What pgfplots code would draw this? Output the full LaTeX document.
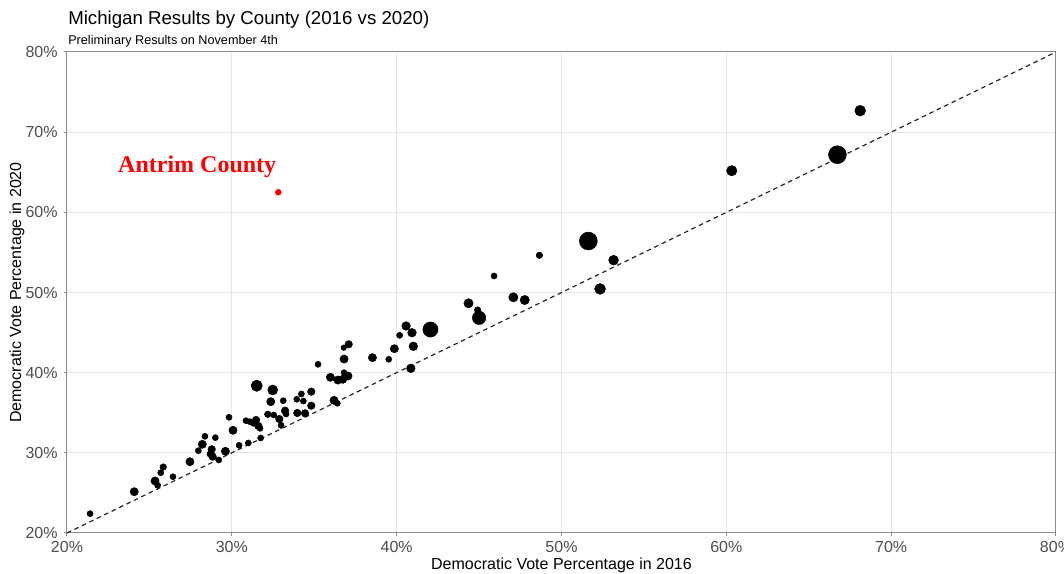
\documentclass[border=0pt]{standalone}
\usepackage{pgfplots}
\usepackage{pgfplotstable}
\pgfplotsset{compat=1.18}
\usepackage{fontspec}
\setmainfont{Liberation Sans}
\newfontfamily\serifbold{Liberation Serif}
\definecolor{gridgray}{HTML}{E6E6E6}
\definecolor{framegray}{HTML}{8C8C8C}
\definecolor{ticktext}{HTML}{4D4D4D}

\pgfplotstableread{
x y r
21.40 22.41 2.1
24.08 25.15 2.85
25.34 26.49 2.85
25.50 25.95 2.1
25.69 27.52 2.1
25.84 28.23 2.25
26.43 27.02 2.1
27.46 28.89 2.85
27.97 30.27 2.1
28.21 31.06 2.85
28.37 32.06 2.1
28.78 30.44 2.6
28.72 29.85 2.6
28.84 29.52 2.6
29.00 31.89 2.1
29.21 29.11 2.1
29.61 30.19 2.85
29.83 34.43 2.1
30.07 32.81 2.85
30.44 30.94 2.1
31.00 31.23 2.1
30.86 34.01 2.1
31.10 33.88 2.1
31.30 33.68 2.1
31.51 38.37 3.9
31.47 34.10 2.6
31.61 33.35 2.6
31.71 33.06 2.1
31.75 31.85 2.1
32.48 37.84 3.45
32.36 36.38 2.85
32.18 34.81 2.25
32.54 34.72 2.1
32.88 34.22 2.6
32.99 33.43 2.1
33.12 36.50 2.1
33.23 35.26 2.6
33.29 34.84 2.1
33.94 36.68 2.1
33.97 34.97 2.6
34.22 37.34 2.1
34.34 36.46 2.1
34.44 34.93 2.6
34.82 37.63 2.6
34.82 35.88 2.6
35.23 41.04 2.1
35.98 39.42 2.85
36.20 36.55 2.85
36.40 36.18 2.1
36.43 39.08 2.85
36.73 39.17 2.85
36.79 43.11 1.9
36.81 41.70 2.85
36.81 40.00 2.1
37.05 39.58 2.85
37.09 43.54 2.6
38.53 41.87 2.85
39.52 41.67 2.1
39.86 42.99 2.85
40.18 44.66 2.1
40.57 45.82 3.0
40.93 44.98 3.0
41.01 43.29 3.0
40.86 40.54 3.0
42.05 45.38 5.25
44.36 48.65 3.2
44.91 47.82 2.25
45.00 46.84 4.65
45.91 52.06 2.1
47.08 49.40 3.2
47.77 49.06 3.2
48.66 54.64 2.25
51.63 56.42 6.2
52.34 50.44 3.75
53.16 54.03 3.4
60.33 65.19 3.6
66.74 67.19 6.2
68.12 72.68 3.75
}\counties

\begin{document}
\begin{tikzpicture}
\begin{axis}[
  name=ax,
  scale only axis,
  width=741.75pt, height=360.75pt,
  xmin=20, xmax=80, ymin=20, ymax=80,
  xtick={20,30,...,80}, ytick={20,30,...,80},
  xticklabels={20\%,30\%,40\%,50\%,60\%,70\%,80\%},
  yticklabels={20\%,30\%,40\%,50\%,60\%,70\%,80\%},
  grid=major,
  grid style={gridgray, line width=0.75pt},
  axis line style={framegray, line width=0.75pt},
  tick style={framegray, line width=0.75pt},
  major tick length=2.5pt,
  tick align=outside,
  xtick pos=left, ytick pos=left,
  ticklabel style={font=\fontsize{12}{14}\selectfont, text=ticktext},
  yticklabel style={xshift=-1pt},
  xlabel={Democratic Vote Percentage in 2016},
  ylabel={Democratic Vote Percentage in 2020},
  label style={font=\fontsize{12}{14}\selectfont},
  xlabel style={at={(axis description cs:0.5,-0.0769)}, anchor=base},
  ylabel style={at={(axis description cs:-0.0506,0.5)}, anchor=center},
  clip=false,
]
\addplot[color=black!85, line width=0.9pt, dash pattern=on 3.4pt off 2.8pt] coordinates {(20,20) (80,80)};
\addplot[scatter, only marks, mark=*,
  scatter/use mapped color={draw=black, fill=black},
  visualization depends on={\thisrow{r} \as \msize},
  scatter/@pre marker code/.append style={/tikz/mark size=1.08*\msize}]
  table[x=x, y=y] {\counties};
\addplot[only marks, mark=*, color=red, mark size=2.2pt] coordinates {(32.82,62.50)};
\node[anchor=base west, text=red, inner sep=0pt, font=\serifbold\bfseries\fontsize{18}{20}\selectfont] at (axis cs:23.09,65.03) {Antrim County};
\coordinate (o) at (rel axis cs:0,0);
\end{axis}
\node[anchor=base west, inner sep=0pt, font=\fontsize{14}{16}\selectfont] at ([xshift=0.75pt,yshift=20.75pt]ax.north west) {Michigan Results by County (2016 vs 2020)};
\node[anchor=base west, inner sep=0pt, font=\fontsize{9.5}{11}\selectfont] at ([xshift=0.75pt,yshift=5.25pt]ax.north west) {Preliminary Results on November 4th};
\pgfresetboundingbox
\path (o) ++(-50.25pt,-30.75pt) rectangle ++(798pt,430.5pt);
\end{tikzpicture}
\end{document}
